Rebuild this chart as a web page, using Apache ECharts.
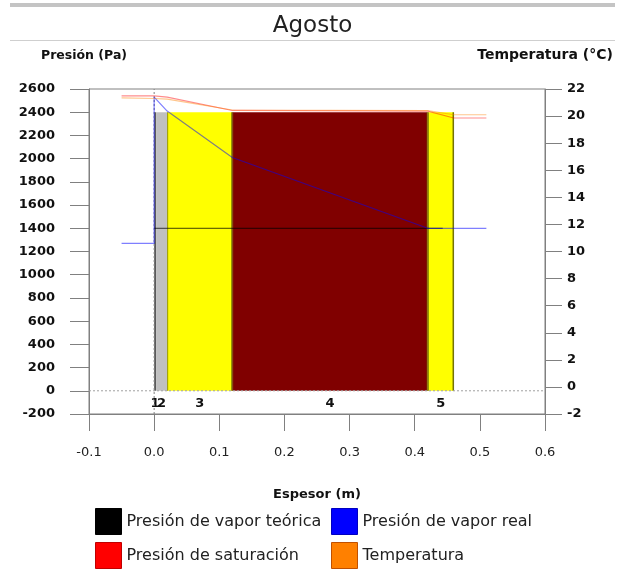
<!DOCTYPE html>
<html>
<head>
<meta charset="utf-8">
<script src="https://cdn.jsdelivr.net/npm/echarts@6/dist/echarts.min.js"></script>
<style>html,body{margin:0;padding:0;background:#fff;}#c{width:625px;height:579px;}</style>
</head>
<body>
<div id="c"></div>
<script>
// ---- data ----
var layerNames = ['1', '2', '3', '4', '5'];
var layerStart = [0, 0.003, 0.02, 0.12, 0.42];
var layerEnd = [0.003, 0.02, 0.12, 0.42, 0.46];
var layerTop = [2400, 2400, 2400, 2400, 2400];

var satX = [-0.05, 0, 0.02, 0.12, 0.42, 0.46, 0.51];
var satP = [2540, 2540, 2530, 2415, 2410, 2350, 2350];

var tempX = [-0.05, 0, 0.02, 0.12, 0.42, 0.46, 0.51];
var tempT = [21.35, 21.3, 21.25, 20.45, 20.4, 20.1, 20.1];

var realX = [-0.05, 0, 0, 0.02, 0.12, 0.42, 0.51];
var realP = [1270, 1270, 2530, 2410, 2010, 1400, 1400];

var theoX = [0, 0.443];
var theoP = [1400, 1400];

var refZeroX = [-0.1, 0.6];
var refZeroY = [0, 0];
var refVertX = [0, 0];
var refVertY = [-200, 2600];

// ---- styles ----
var layerColors = ['#5a5a5a', '#c0c0c0', '#ffff00', '#800000', '#ffff00'];
var layerEdges = ['rgba(0,0,0,0)', 'rgba(0,0,0,0)', 'rgba(110,110,0,0.75)', 'rgba(110,110,0,0.5)', 'rgba(90,90,0,0.85)'];

function zip(a, b) { return a.map(function (v, i) { return [v, b[i]]; }); }

var layerData = layerNames.map(function (n, i) { return [layerStart[i], layerEnd[i], layerTop[i], n]; });

var chart = echarts.init(document.getElementById('c'), null, { renderer: 'canvas' });
var tickFont = { fontFamily: 'DejaVu Sans', fontWeight: 'bold', fontSize: 13, color: '#111' };
var legendText = { fontFamily: 'DejaVu Sans', fontSize: 16, color: '#222' };

var option = {
  animation: false,
  backgroundColor: '#fff',
  title: {
    text: 'Agosto', left: 'center', top: 10,
    textStyle: { fontFamily: 'DejaVu Sans', fontWeight: 'normal', fontSize: 23, color: '#222' }
  },
  graphic: [
    { type: 'rect', shape: { x: 10, y: 3, width: 605, height: 4 }, style: { fill: '#c4c4c4' }, silent: true },
    { type: 'rect', shape: { x: 10, y: 40, width: 605, height: 1 }, style: { fill: '#cfcfcf' }, silent: true },
    {
      type: 'text', left: 41, top: 49, silent: true,
      style: { text: 'Presión (Pa)', font: 'bold 12.5px "DejaVu Sans"', fill: '#111' }
    }
  ],
  grid: { left: 89, right: 80, top: 89, bottom: 165, show: true, borderColor: '#808080', borderWidth: 1 },
  legend: [
    {
      orient: 'vertical', left: 95, top: 508, padding: 0, itemWidth: 26, itemHeight: 26, itemGap: 7, icon: 'rect',
      selectedMode: false, textStyle: legendText,
      data: [
        { name: 'Presión de vapor teórica', itemStyle: { color: '#000000', borderColor: '#000000', borderWidth: 1 } },
        { name: 'Presión de saturación', itemStyle: { color: '#ff0000', borderColor: '#c00000', borderWidth: 1 } }
      ]
    },
    {
      orient: 'vertical', left: 331, top: 508, padding: 0, itemWidth: 26, itemHeight: 26, itemGap: 7, icon: 'rect',
      selectedMode: false, textStyle: legendText,
      data: [
        { name: 'Presión de vapor real', itemStyle: { color: '#0000ff', borderColor: '#0000c0', borderWidth: 1 } },
        { name: 'Temperatura', itemStyle: { color: '#ff8000', borderColor: '#c05000', borderWidth: 1 } }
      ]
    }
  ],
  xAxis: {
    type: 'value', min: -0.1, max: 0.6, interval: 0.1,
    name: 'Espesor (m)', nameLocation: 'middle', nameGap: 74,
    nameTextStyle: { fontFamily: 'DejaVu Sans', fontWeight: 'bold', fontSize: 13, color: '#111' },
    axisLine: { show: true, onZero: false, lineStyle: { color: '#808080' } },
    axisTick: { show: true, length: 17, lineStyle: { color: '#808080' } },
    axisLabel: {
      margin: 32, fontFamily: 'DejaVu Sans', fontSize: 13, color: '#222',
      formatter: function (v) { return v.toFixed(1); }
    },
    splitLine: { show: false }
  },
  yAxis: [
    {
      type: 'value', min: -200, max: 2600, interval: 200, position: 'left',
      axisLine: { show: true, onZero: false, lineStyle: { color: '#808080' } },
      axisTick: { show: true, length: 19, lineStyle: { color: '#808080' } },
      axisLabel: Object.assign({ margin: 34, formatter: function (v) { return String(v); } }, tickFont),
      splitLine: { show: false }
    },
    {
      type: 'value', min: -2, max: 22, interval: 2, position: 'right',
      name: 'Temperatura (°C)', nameLocation: 'end', nameGap: 27,
      nameTextStyle: { fontFamily: 'DejaVu Sans', fontWeight: 'bold', fontSize: 14, color: '#111', align: 'center' },
      axisLine: { show: true, onZero: false, lineStyle: { color: '#808080' } },
      axisTick: { show: true, length: 17, lineStyle: { color: '#808080' } },
      axisLabel: Object.assign({ margin: 22, formatter: function (v) { return String(v); } }, tickFont),
      splitLine: { show: false }
    }
  ],
  series: [
    {
      type: 'custom', name: 'capas', silent: true, z: 1,
      data: layerData,
      encode: { x: [0, 1], y: 2 },
      renderItem: function (params, api) {
        var i = params.dataIndex;
        var x0 = api.value(0), x1 = api.value(1), top = api.value(2);
        var p0 = api.coord([x0, top]);
        var p1 = api.coord([x1, 0]);
        var w = p1[0] - p0[0], h = p1[1] - p0[1];
        return {
          type: 'group',
          children: [
            { type: 'rect', shape: { x: p0[0], y: p0[1], width: w, height: h }, style: { fill: layerColors[i] } },
            { type: 'line', shape: { x1: p0[0] + 0.5, y1: p0[1], x2: p0[0] + 0.5, y2: p1[1] }, style: { stroke: layerEdges[i], lineWidth: 1 } },
            { type: 'line', shape: { x1: p1[0] - 0.5, y1: p0[1], x2: p1[0] - 0.5, y2: p1[1] }, style: { stroke: layerEdges[i], lineWidth: 1.5 } },
            {
              type: 'text',
              style: {
                text: layerNames[i], x: (p0[0] + p1[0]) / 2, y: p1[1] + 13,
                align: 'center', verticalAlign: 'middle',
                font: 'bold 13px "DejaVu Sans"', fill: '#111'
              }
            }
          ]
        };
      }
    },
    {
      type: 'line', name: 'ref0', silent: true, symbol: 'none', z: 2,
      data: zip(refZeroX, refZeroY),
      lineStyle: { color: '#a0a0a0', width: 1, type: [2, 2] }
    },
    {
      type: 'line', name: 'refV', silent: true, symbol: 'none', z: 2,
      data: zip(refVertX, refVertY),
      lineStyle: { color: '#808080', width: 1, type: [2, 2] }
    },
    {
      type: 'line', name: 'Presión de vapor teórica', symbol: 'none', z: 3,
      data: zip(theoX, theoP),
      itemStyle: { color: '#000000' },
      lineStyle: { color: 'rgba(0,0,0,0.75)', width: 1 }
    },
    {
      type: 'line', name: 'Presión de vapor real', symbol: 'none', z: 4,
      data: zip(realX, realP),
      itemStyle: { color: '#0000ff' },
      lineStyle: { color: 'rgba(0,0,255,0.5)', width: 1.2 }
    },
    {
      type: 'line', name: 'Presión de saturación', symbol: 'none', z: 5,
      data: zip(satX, satP),
      itemStyle: { color: '#ff0000' },
      lineStyle: { color: 'rgba(255,0,0,0.45)', width: 1.2 }
    },
    {
      type: 'line', name: 'Temperatura', symbol: 'none', z: 5, yAxisIndex: 1,
      data: zip(tempX, tempT),
      itemStyle: { color: '#ff8000' },
      lineStyle: { color: 'rgba(255,128,0,0.45)', width: 1.2 }
    }
  ]
};
chart.setOption(option);
</script>
</body>
</html>
